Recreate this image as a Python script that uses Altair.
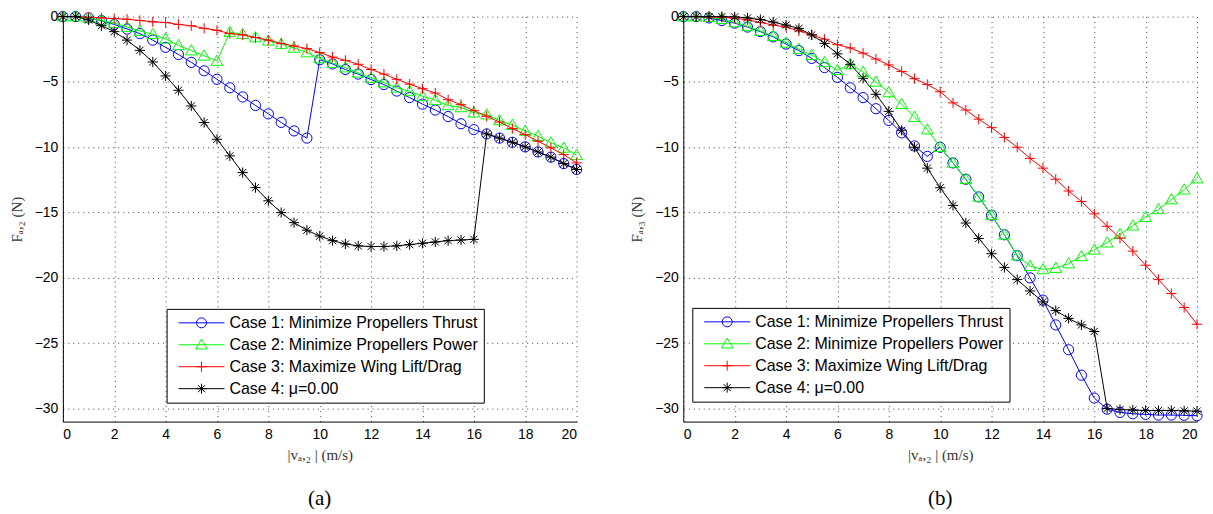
import altair as alt
import pandas as pd

speed = [0.0, 0.5, 1.0, 1.5, 2.0, 2.5, 3.0, 3.5, 4.0, 4.5, 5.0, 5.5, 6.0, 6.5, 7.0, 7.5,
         8.0, 8.5, 9.0, 9.5, 10.0, 10.5, 11.0, 11.5, 12.0, 12.5, 13.0, 13.5, 14.0, 14.5,
         15.0, 15.5, 16.0, 16.5, 17.0, 17.5, 18.0, 18.5, 19.0, 19.5, 20.0]

# ---- panel (a): F_a,2 ----
a_case1 = [0, 0, -0.1, -0.3, -0.6, -0.95, -1.3, -1.8, -2.35, -2.9, -3.5, -4.15, -4.8, -5.45,
           -6.15, -6.8, -7.45, -8.1, -8.75, -9.3, -3.3, -3.62, -4.05, -4.4, -4.82, -5.2, -5.7,
           -6.2, -6.7, -7.15, -7.65, -8.2, -8.65, -8.98, -9.3, -9.62, -9.97, -10.36, -10.76,
           -11.25, -11.7]
a_case2 = [0, 0, -0.1, -0.3, -0.5, -0.8, -1.1, -1.35, -1.7, -2.2, -2.6, -3.0, -3.4, -1.2,
           -1.35, -1.6, -1.85, -2.1, -2.4, -2.75, -3.2, -3.55, -3.9, -4.3, -4.7, -5.05, -5.45,
           -5.72, -6.1, -6.4, -6.8, -6.95, -7.35, -7.5, -7.95, -8.3, -8.75, -9.15, -9.65,
           -10.05, -10.6]
a_case3 = [0, 0, -0.05, -0.1, -0.15, -0.2, -0.3, -0.4, -0.45, -0.6, -0.7, -0.9, -1.05, -1.3,
           -1.4, -1.6, -1.8, -2.05, -2.25, -2.45, -2.75, -3.1, -3.35, -3.65, -4.05, -4.4, -4.8,
           -5.17, -5.52, -5.85, -6.36, -6.74, -7.2, -7.63, -8.07, -8.57, -9.03, -9.54, -10.05,
           -10.56, -11.2]
a_case4 = [0, 0, -0.25, -0.7, -1.15, -1.8, -2.58, -3.47, -4.54, -5.64, -6.84, -8.11, -9.39,
           -10.66, -11.94, -13.09, -14.1, -15.0, -15.77, -16.35, -16.8, -17.15, -17.4, -17.55,
           -17.6, -17.6, -17.55, -17.45, -17.35, -17.25, -17.15, -17.1, -17.05, -8.98, -9.3,
           -9.62, -9.97, -10.36, -10.76, -11.25, -11.7]

# ---- panel (b): F_a,3 ----
b_case1 = [0, 0, -0.1, -0.3, -0.5, -0.8, -1.15, -1.55, -2.1, -2.6, -3.2, -3.9, -4.65, -5.45,
           -6.2, -7.05, -7.95, -8.9, -9.9, -10.7, -10.0, -11.2, -12.45, -13.8, -15.2, -16.7,
           -18.3, -20.0, -21.7, -23.6, -25.5, -27.45, -29.2, -30.05, -30.3, -30.4, -30.45,
           -30.5, -30.5, -30.52, -30.55]
b_case2 = [0, 0, -0.05, -0.2, -0.45, -0.75, -1.1, -1.5, -2.0, -2.5, -2.95, -3.5, -4.1, -3.65,
           -4.25, -5.0, -5.8, -6.7, -7.7, -8.65, -10.0, -11.2, -12.45, -13.8, -15.2, -16.7,
           -18.3, -19.1, -19.35, -19.25, -18.9, -18.35, -17.85, -17.3, -16.65, -16.0, -15.35,
           -14.75, -14.0, -13.25, -12.4]
b_case3 = [0, 0, -0.02, -0.05, -0.12, -0.25, -0.45, -0.65, -0.8, -1.1, -1.4, -1.73, -2.15,
           -2.4, -2.8, -3.25, -3.7, -4.2, -4.75, -5.2, -5.75, -6.6, -7.15, -7.85, -8.5, -9.25,
           -10.0, -10.85, -11.6, -12.45, -13.35, -14.15, -15.1, -16.05, -16.95, -17.95, -19.03,
           -20.13, -21.2, -22.27, -23.55]
b_case4 = [0, 0, 0, 0, -0.02, -0.1, -0.22, -0.42, -0.65, -0.9, -1.4, -2.05, -2.85, -3.65,
           -4.72, -5.95, -7.25, -8.7, -10.0, -11.6, -13.1, -14.45, -15.8, -16.98, -18.15, -19.2,
           -20.13, -21.0, -21.84, -22.5, -23.1, -23.6, -24.1, -30.0, -30.08, -30.12, -30.15,
           -30.15, -30.15, -30.18, -30.2]

cases = ["Case 1: Minimize Propellers Thrust", "Case 2: Minimize Propellers Power",
         "Case 3: Maximize Wing Lift/Drag", "Case 4: \u03bc=0.00"]
colors = ["#0000ff", "#00ff00", "#ff0000", "#000000"]

x_ticks = [0, 2, 4, 6, 8, 10, 12, 14, 16, 18, 20]
y_ticks = [-30, -25, -20, -15, -10, -5, 0]

# marker shapes (unit square, drawn at size 100 -> 10 px)
markers = [
    "M1,0A1,1 0 1,1 -1,0A1,1 0 1,1 1,0",
    "M0,-1.15L1.15,0.85L-1.15,0.85Z",
    "M-1,0L1,0M0,-1L0,1",
    "M-1,0L1,0M0,-1L0,1M-0.71,-0.71L0.71,0.71M-0.71,0.71L0.71,-0.71",
]
legend_symbols = ["M-4.6,0L4.6,0" + m for m in markers]


def panel(series, ytitle, caption, lx, ly):
    frames = []
    for name, vals in zip(cases, series):
        frames.append(pd.DataFrame({"speed": speed, "force": vals, "case": name}))
    df = pd.concat(frames, ignore_index=True)

    xenc = alt.X("speed:Q", scale=alt.Scale(domain=[0, 20], nice=False),
                 axis=alt.Axis(values=x_ticks, title="|v\u2090,\u2082 |  (m/s)",
                               labelPadding=6, titlePadding=6))
    yenc = alt.Y("force:Q", scale=alt.Scale(domain=[-31, 0], nice=False, zero=False),
                 axis=alt.Axis(values=y_ticks, title=ytitle, labelPadding=5,
                               titlePadding=10))
    base = alt.Chart(df).encode(x=xenc, y=yenc)

    layers = []
    for name, col, mk in zip(cases, colors, markers):
        sub = base.transform_filter(alt.datum.case == name)
        layers.append(sub.mark_line(color=col, strokeWidth=1))
        layers.append(sub.mark_point(shape=mk, size=105, filled=False, color=col,
                                     strokeWidth=1, opacity=1))

    leg = alt.Legend(title=None, orient="none", legendX=lx, legendY=ly,
                     strokeColor="black", fillColor="white", padding=6,
                     symbolSize=100, symbolStrokeWidth=1, symbolOffset=21,
                     labelOffset=20, labelFont="Liberation Sans", labelFontSize=16,
                     labelColor="black", rowPadding=6, labelLimit=500)
    legend_layer = base.mark_point(filled=False, strokeWidth=1, opacity=1).encode(
        color=alt.Color("case:N", scale=alt.Scale(domain=cases, range=colors), legend=leg),
        shape=alt.Shape("case:N", scale=alt.Scale(domain=cases, range=legend_symbols),
                        legend=leg),
    ).transform_filter("datum.speed < -100")
    layers.append(legend_layer)

    return alt.layer(*layers).properties(
        width=515, height=406,
        title=alt.TitleParams(caption, orient="bottom", font="Liberation Serif",
                              fontSize=21, fontWeight="normal", color="black",
                              offset=26, anchor="middle"),
    )


left = panel([a_case1, a_case2, a_case3, a_case4], "F\u2090,\u2082  (N)", "(a)", 104, 293)
right = panel([b_case1, b_case2, b_case3, b_case4], "F\u2090,\u2083  (N)", "(b)", 9, 292)

chart = alt.hconcat(left, right, spacing=45).resolve_scale(
    color="independent", shape="independent"
).resolve_legend(color="independent", shape="independent").properties(
    padding={"left": 1, "top": 0, "right": 0, "bottom": 0}, background="white"
).configure_view(strokeWidth=0).configure_axis(
    domainColor="black", domainWidth=1, ticks=False, grid=True, gridColor="#444444",
    gridDash=[1, 4], gridWidth=1, labelFont="Liberation Sans", labelFontSize=14,
    labelColor="black", titleFont="Liberation Serif", titleFontSize=15,
    titleFontWeight="normal", titleColor="#333333"
)

chart.save("out.html", embed_options={"renderer": "svg", "actions": False})
